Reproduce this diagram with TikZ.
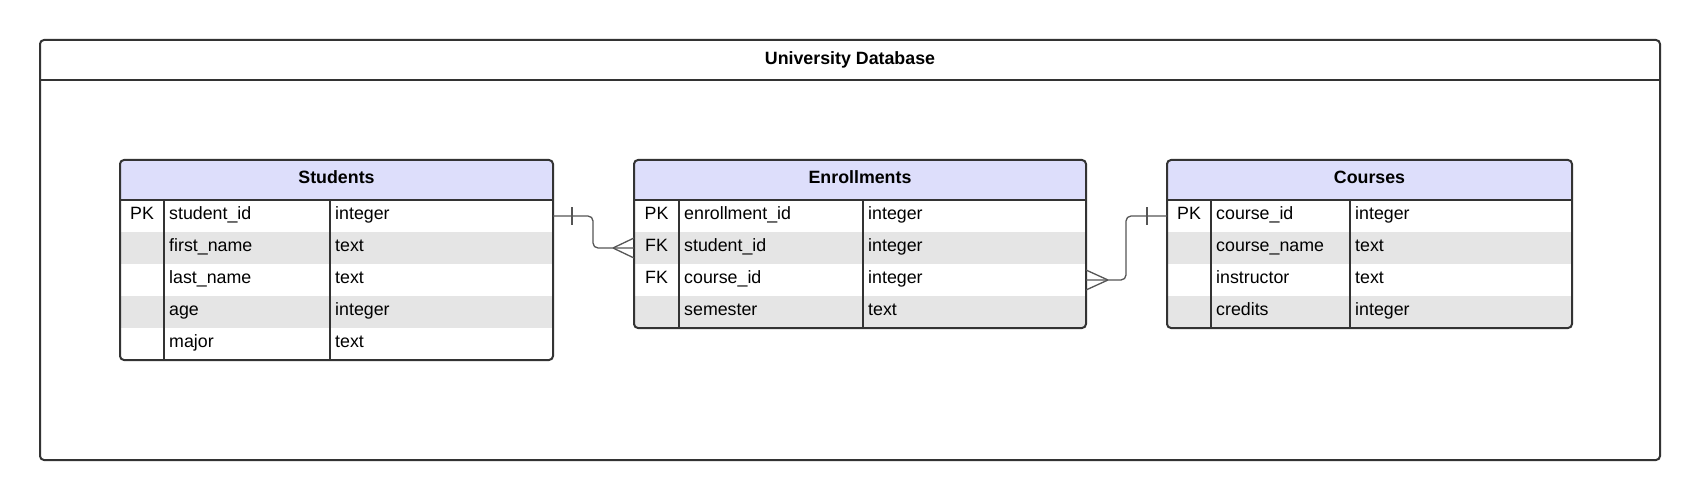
\documentclass[tikz,border=0pt]{standalone}
\usepackage{fontspec}
\setmainfont{Liberation Sans}
\usetikzlibrary{calc}
\definecolor{hdrfill}{RGB}{221,222,251}
\definecolor{stripefill}{RGB}{229,229,229}
\definecolor{edgecol}{RGB}{51,51,51}
\definecolor{conncol}{RGB}{85,85,85}
\newcommand{\txtsize}{\fontsize{17.8}{21}\selectfont}
\tikzset{
  frameline/.style={draw=edgecol, line width=2pt, rounded corners=4pt},
  tabborder/.style={draw=edgecol, line width=2pt, rounded corners=4pt},
  divline/.style={draw=edgecol, line width=2pt},
  keytxt/.style={inner sep=0pt, anchor=base, font=\txtsize, text=black},
  fldtxt/.style={inner sep=0pt, anchor=base west, font=\txtsize, text=black},
  hdrtxt/.style={inner sep=0pt, anchor=base, font=\txtsize\bfseries, text=black},
  rowbox/.style={inner sep=0pt, outer sep=0pt, minimum height=32pt},
  conn/.style={draw=conncol, line width=1.3pt, rounded corners=5pt},
  connmark/.style={draw=conncol, line width=1.3pt},
}
\begin{document}
\begin{tikzpicture}[x=1pt, y=-1pt]
\useasboundingbox (0,0) rectangle (1700,500);
% outer frame
\draw[frameline] (40,40) rectangle (1660,460);
\draw[divline] (40,80) -- (1660,80);
\node[hdrtxt] (title) at (850,64.5) {University Database};

% ---------- Students ----------
\begin{scope}
\clip[rounded corners=4pt] (120,160) rectangle (553,360);
\fill[white] (120,160) rectangle (553,360);
\fill[hdrfill] (120,160) rectangle (553,200);
\fill[stripefill] (120,232) rectangle (553,264);
\fill[stripefill] (120,296) rectangle (553,328);
\end{scope}
\draw[divline] (120,200) -- (553,200);
\draw[divline] (164,200) -- (164,360);
\draw[divline] (330,200) -- (330,360);
\draw[tabborder] (120,160) rectangle (553,360);
\node[hdrtxt] (sh) at (336.5,183) {Students};
\foreach \i/\yy in {1/216,2/248,3/280,4/312,5/344}
  \node[rowbox, minimum width=433pt] (s\i) at (336.5,\yy) {};
\node[keytxt] (s1k) at (142,219.5) {PK};
\node[fldtxt] (s1f) at (169,219.5) {student\_id};
\node[fldtxt] (s1t) at (335,219.5) {integer};
\node[fldtxt] (s2f) at (169,251.5) {first\_name};
\node[fldtxt] (s2t) at (335,251.5) {text};
\node[fldtxt] (s3f) at (169,283.5) {last\_name};
\node[fldtxt] (s3t) at (335,283.5) {text};
\node[fldtxt] (s4f) at (169,315.5) {age};
\node[fldtxt] (s4t) at (335,315.5) {integer};
\node[fldtxt] (s5f) at (169,347.5) {major};
\node[fldtxt] (s5t) at (335,347.5) {text};

% ---------- Enrollments ----------
\begin{scope}
\clip[rounded corners=4pt] (634,160) rectangle (1086,328);
\fill[white] (634,160) rectangle (1086,328);
\fill[hdrfill] (634,160) rectangle (1086,200);
\fill[stripefill] (634,232) rectangle (1086,264);
\fill[stripefill] (634,296) rectangle (1086,328);
\end{scope}
\draw[divline] (634,200) -- (1086,200);
\draw[divline] (679,200) -- (679,328);
\draw[divline] (863,200) -- (863,328);
\draw[tabborder] (634,160) rectangle (1086,328);
\node[hdrtxt] (eh) at (860,183) {Enrollments};
\foreach \i/\yy in {1/216,2/248,3/280,4/312}
  \node[rowbox, minimum width=452pt] (e\i) at (860,\yy) {};
\node[keytxt] (e1k) at (656.5,219.5) {PK};
\node[fldtxt] (e1f) at (684,219.5) {enrollment\_id};
\node[fldtxt] (e1t) at (868,219.5) {integer};
\node[keytxt] (e2k) at (656.5,251.5) {FK};
\node[fldtxt] (e2f) at (684,251.5) {student\_id};
\node[fldtxt] (e2t) at (868,251.5) {integer};
\node[keytxt] (e3k) at (656.5,283.5) {FK};
\node[fldtxt] (e3f) at (684,283.5) {course\_id};
\node[fldtxt] (e3t) at (868,283.5) {integer};
\node[fldtxt] (e4f) at (684,315.5) {semester};
\node[fldtxt] (e4t) at (868,315.5) {text};

% ---------- Courses ----------
\begin{scope}
\clip[rounded corners=4pt] (1167,160) rectangle (1572,328);
\fill[white] (1167,160) rectangle (1572,328);
\fill[hdrfill] (1167,160) rectangle (1572,200);
\fill[stripefill] (1167,232) rectangle (1572,264);
\fill[stripefill] (1167,296) rectangle (1572,328);
\end{scope}
\draw[divline] (1167,200) -- (1572,200);
\draw[divline] (1211,200) -- (1211,328);
\draw[divline] (1350,200) -- (1350,328);
\draw[tabborder] (1167,160) rectangle (1572,328);
\node[hdrtxt] (ch) at (1369.5,183) {Courses};
\foreach \i/\yy in {1/216,2/248,3/280,4/312}
  \node[rowbox, minimum width=405pt] (c\i) at (1369.5,\yy) {};
\node[keytxt] (c1k) at (1189,219.5) {PK};
\node[fldtxt] (c1f) at (1216,219.5) {course\_id};
\node[fldtxt] (c1t) at (1355,219.5) {integer};
\node[fldtxt] (c2f) at (1216,251.5) {course\_name};
\node[fldtxt] (c2t) at (1355,251.5) {text};
\node[fldtxt] (c3f) at (1216,283.5) {instructor};
\node[fldtxt] (c3t) at (1355,283.5) {text};
\node[fldtxt] (c4f) at (1216,315.5) {credits};
\node[fldtxt] (c4t) at (1355,315.5) {integer};

% ---------- Connectors ----------
\coordinate (k1) at (593,232);
\draw[conn] (s1.east) -| (k1) |- (e2.west);
\draw[connmark] ($(s1.east)+(19,-9)$) -- ($(s1.east)+(19,9)$);
\draw[connmark] ($(e2.west)+(-21,0)$) -- ($(e2.west)+(0,-10)$)
                ($(e2.west)+(-21,0)$) -- ($(e2.west)+(0,10)$);

\coordinate (k2) at (1126,248);
\draw[conn] (e3.east) -| (k2) |- (c1.west);
\draw[connmark] ($(c1.west)+(-20,-9)$) -- ($(c1.west)+(-20,9)$);
\draw[connmark] ($(e3.east)+(22,0)$) -- ($(e3.east)+(0,-10)$)
                ($(e3.east)+(22,0)$) -- ($(e3.east)+(0,10)$);
\end{tikzpicture}
\end{document}
